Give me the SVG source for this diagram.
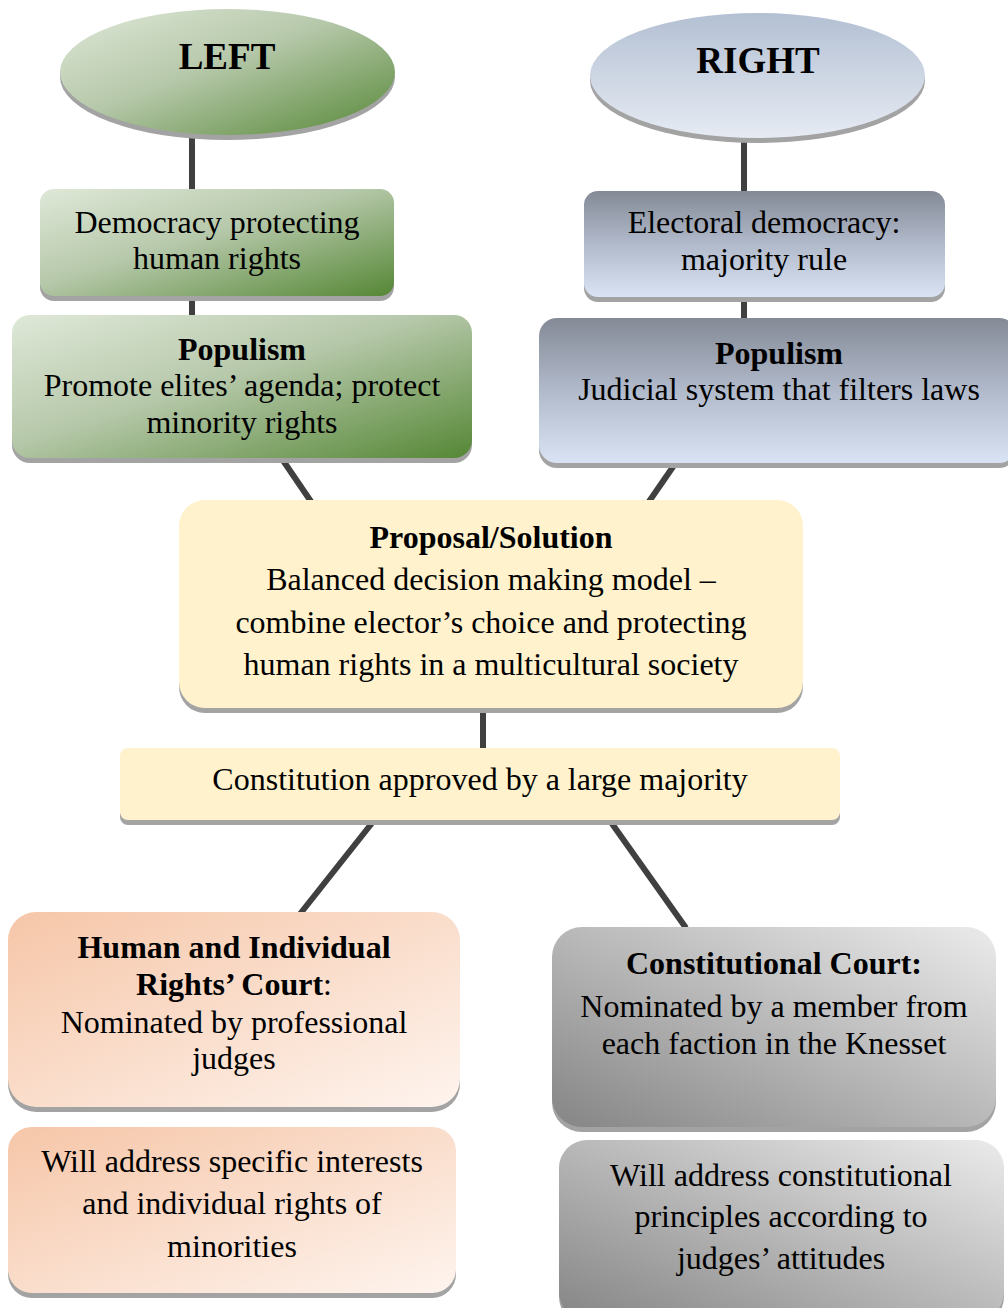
<svg xmlns="http://www.w3.org/2000/svg" width="1008" height="1308" viewBox="0 0 1008 1308">
<defs>
<linearGradient id="gGreen" x1="0" y1="0" x2="1" y2="1">
<stop offset="0" stop-color="#dfe8d8"/><stop offset="0.45" stop-color="#b6c8aa"/><stop offset="1" stop-color="#558735"/>
</linearGradient>
<linearGradient id="gBlueEll" x1="0" y1="0" x2="0" y2="1">
<stop offset="0" stop-color="#b3c0d3"/><stop offset="1" stop-color="#e6ebf3"/>
</linearGradient>
<linearGradient id="gBlue" x1="0" y1="0" x2="0" y2="1">
<stop offset="0" stop-color="#848a96"/><stop offset="0.5" stop-color="#b1bacb"/><stop offset="1" stop-color="#d9e3f4"/>
</linearGradient>
<linearGradient id="gPeach" x1="0" y1="0" x2="1" y2="1">
<stop offset="0" stop-color="#f6c6a8"/><stop offset="1" stop-color="#fef4ee"/>
</linearGradient>
<linearGradient id="gGrey" x1="0" y1="1" x2="1" y2="0">
<stop offset="0" stop-color="#858585"/><stop offset="1" stop-color="#ebebeb"/>
</linearGradient>
</defs>
<style>
.t{font-family:"Liberation Serif","Times New Roman",serif;font-size:32px;fill:#000;text-anchor:middle}
.b{font-weight:bold}
.h{font-size:37px;font-weight:bold}
.sh{fill:#a3a3a3}
.c{stroke:#404040;stroke-width:6;fill:none}
.y{fill:#fff2cc}
</style>
<g id="connectors">
<line class="c" x1="192" y1="130" x2="192" y2="192"/>
<line class="c" x1="744" y1="134" x2="744" y2="194"/>
<line class="c" x1="192" y1="294" x2="192" y2="318"/>
<line class="c" x1="744" y1="295" x2="744" y2="321"/>
<line class="c" x1="280" y1="456" x2="312" y2="503"/>
<line class="c" x1="677" y1="461" x2="648" y2="503"/>
<line class="c" x1="483" y1="706" x2="483" y2="751"/>
<line class="c" x1="376" y1="818" x2="300" y2="914"/>
<line class="c" x1="608" y1="818" x2="686" y2="928"/>
</g>
<g id="left">
<ellipse class="sh" cx="227.5" cy="77" rx="167.5" ry="63"/>
<ellipse cx="227.5" cy="72" rx="167.5" ry="63" fill="url(#gGreen)"/>
<text class="t h" x="227" y="69">LEFT</text>
</g>
<g id="right">
<ellipse class="sh" cx="757.5" cy="80.5" rx="167.5" ry="62.5"/>
<ellipse cx="757.5" cy="75.5" rx="167.5" ry="62.5" fill="url(#gBlueEll)"/>
<text class="t h" x="758" y="73">RIGHT</text>
</g>
<g id="democracy">
<rect class="sh" x="40" y="194" width="354" height="107" rx="14"/>
<rect x="40" y="189" width="354" height="107" rx="14" fill="url(#gGreen)"/>
<text class="t" x="217" y="233">Democracy protecting</text>
<text class="t" x="217" y="269">human rights</text>
</g>
<g id="electoral">
<rect class="sh" x="584" y="196" width="361" height="106" rx="14"/>
<rect x="584" y="191" width="361" height="106" rx="14" fill="url(#gBlue)"/>
<text class="t" x="764" y="233">Electoral democracy:</text>
<text class="t" x="764" y="270">majority rule</text>
</g>
<g id="populism-left">
<rect class="sh" x="12" y="320" width="460" height="143" rx="18"/>
<rect x="12" y="315" width="460" height="143" rx="18" fill="url(#gGreen)"/>
<text class="t b" x="242" y="360">Populism</text>
<text class="t" x="242" y="396">Promote elites’ agenda; protect</text>
<text class="t" x="242" y="433">minority rights</text>
</g>
<g id="populism-right">
<rect class="sh" x="539" y="323" width="478" height="145" rx="18"/>
<rect x="539" y="318" width="478" height="145" rx="18" fill="url(#gBlue)"/>
<text class="t b" x="779" y="364">Populism</text>
<text class="t" x="779" y="400">Judicial system that filters laws</text>
</g>
<g id="proposal">
<rect class="sh" x="179" y="505" width="624" height="208" rx="26"/>
<rect class="y" x="179" y="500" width="624" height="208" rx="26"/>
<text class="t b" x="491" y="548">Proposal/Solution</text>
<text class="t" x="491" y="590">Balanced decision making model –</text>
<text class="t" x="491" y="633">combine elector’s choice and protecting</text>
<text class="t" x="491" y="675">human rights in a multicultural society</text>
</g>
<g id="constitution">
<rect class="sh" x="120" y="753" width="720" height="72" rx="8"/>
<rect class="y" x="120" y="748" width="720" height="72" rx="8"/>
<text class="t" x="480" y="790">Constitution approved by a large majority</text>
</g>
<g id="rights-court">
<rect class="sh" x="8" y="917" width="452" height="195" rx="28"/>
<rect x="8" y="912" width="452" height="195" rx="28" fill="url(#gPeach)"/>
<text class="t b" x="234" y="958">Human and Individual</text>
<text class="t" x="234" y="995"><tspan class="b">Rights’ Court</tspan>:</text>
<text class="t" x="234" y="1033">Nominated by professional</text>
<text class="t" x="234" y="1069">judges</text>
</g>
<g id="rights-address">
<rect class="sh" x="8" y="1132" width="448" height="166" rx="24"/>
<rect x="8" y="1127" width="448" height="166" rx="24" fill="url(#gPeach)"/>
<text class="t" x="232" y="1172">Will address specific interests</text>
<text class="t" x="232" y="1214">and individual rights of</text>
<text class="t" x="232" y="1257">minorities</text>
</g>
<g id="const-court">
<rect class="sh" x="552" y="932" width="444" height="200" rx="30"/>
<rect x="552" y="927" width="444" height="200" rx="30" fill="url(#gGrey)"/>
<text class="t b" x="774" y="974">Constitutional Court:</text>
<text class="t" x="774" y="1017">Nominated by a member from</text>
<text class="t" x="774" y="1054">each faction in the Knesset</text>
</g>
<g id="const-address">
<rect class="sh" x="559" y="1145" width="445" height="180" rx="28"/>
<rect x="559" y="1140" width="445" height="180" rx="28" fill="url(#gGrey)"/>
<text class="t" x="781" y="1186">Will address constitutional</text>
<text class="t" x="781" y="1227">principles according to</text>
<text class="t" x="781" y="1269">judges’ attitudes</text>
</g>
</svg>
